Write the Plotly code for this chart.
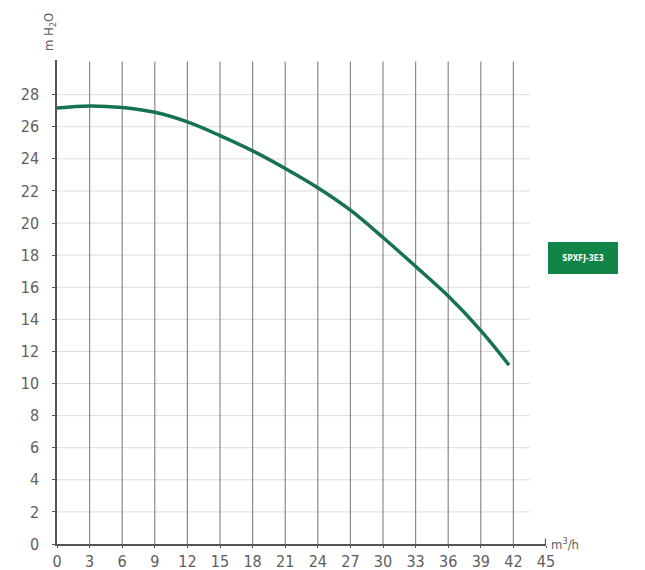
import plotly.graph_objects as go

flow = [0, 3, 6, 9, 12, 15, 18, 21, 24, 27, 30, 33, 36, 39, 41.6]
head = [27.17, 27.3, 27.2, 26.9, 26.3, 25.45, 24.5, 23.4, 22.2, 20.8, 19.1, 17.3, 15.45, 13.3, 11.15]
x_ticks = [0, 3, 6, 9, 12, 15, 18, 21, 24, 27, 30, 33, 36, 39, 42, 45]
y_ticks = [0, 2, 4, 6, 8, 10, 12, 14, 16, 18, 20, 22, 24, 26, 28]
series_name = "SPXFJ-3E3"

W, H = 645, 570
ml, mr, mt, mb = 49, 107, 52, 34
PW, PH = W - ml - mr, H - mt - mb
x_max = 45
y_max = 30.16
hgrid_end = 43.5

FONT = "Liberation Sans Narrow, DejaVu Sans Condensed, Roboto, sans-serif"
TXT = "#5e5e5e"

fig = go.Figure()

shapes = []
for v in y_ticks[1:]:
    shapes.append(dict(type="line", xref="x", yref="y", x0=0, x1=hgrid_end, y0=v, y1=v,
                       line=dict(color="#dcdcdc", width=1), layer="below"))
for v in x_ticks[1:-1]:
    shapes.append(dict(type="line", xref="x", yref="y", x0=v, x1=v, y0=0, y1=y_max - 0.1,
                       line=dict(color="#8a8a8a", width=1.2), layer="below"))
# axis end mark
shapes.append(dict(type="line", xref="x", yref="y", x0=x_max - 0.05, x1=x_max - 0.05, y0=0, y1=0.35,
                   line=dict(color="#555555", width=1.2)))

fig.add_trace(go.Scatter(
    x=flow, y=head, mode="lines", name=series_name,
    line=dict(color="#17734d", width=3.5, shape="spline", smoothing=1.0),
    showlegend=False, hoverinfo="x+y"))

fig.update_layout(
    width=W, height=H,
    margin=dict(l=ml, r=mr, t=mt, b=mb, autoexpand=False),
    paper_bgcolor="white", plot_bgcolor="white",
    font=dict(family=FONT, color=TXT, size=16),
    shapes=shapes,
    xaxis=dict(range=[0, x_max], tickvals=x_ticks, ticktext=[str(v) for v in x_ticks],
               showgrid=False, zeroline=False, showline=True, linecolor="#555555", linewidth=1.5,
               ticks="outside", ticklen=2, tickcolor="#555555", tickfont=dict(size=16, color=TXT),
               ticklabelstandoff=0, automargin=False, fixedrange=True),
    yaxis=dict(range=[0, y_max], tickvals=y_ticks, ticktext=[str(v) for v in y_ticks],
               showgrid=False, zeroline=False, showline=True, linecolor="#555555", linewidth=1.5,
               ticks="outside", ticklen=3, tickcolor="#555555", tickfont=dict(size=16, color=TXT),
               ticklabelstandoff=10, automargin=False, fixedrange=True),
    annotations=[
        dict(text="m H<sub>2</sub>O", xref="paper", yref="paper",
             x=-7 / PW, y=1 + 28 / PH, textangle=-90,
             showarrow=False, font=dict(size=13, color=TXT),
             xanchor="center", yanchor="middle"),
        dict(text="m<sup>3</sup>/h", xref="paper", yref="paper",
             x=1 + 3 / PW, y=0, showarrow=False,
             xanchor="left", yanchor="middle", font=dict(size=13, color=TXT)),
        dict(text="<b>" + series_name + "</b>", xref="paper", yref="paper",
             x=1 + 37 / PW, y=(H - mb - 257.5 + 8) / PH,
             xanchor="center", yanchor="middle", showarrow=False,
             bgcolor="#118448", bordercolor="#118448", width=62, height=24, borderpad=3,
             font=dict(size=8, color="white")),
    ],
)

fig.write_html("out.html")
